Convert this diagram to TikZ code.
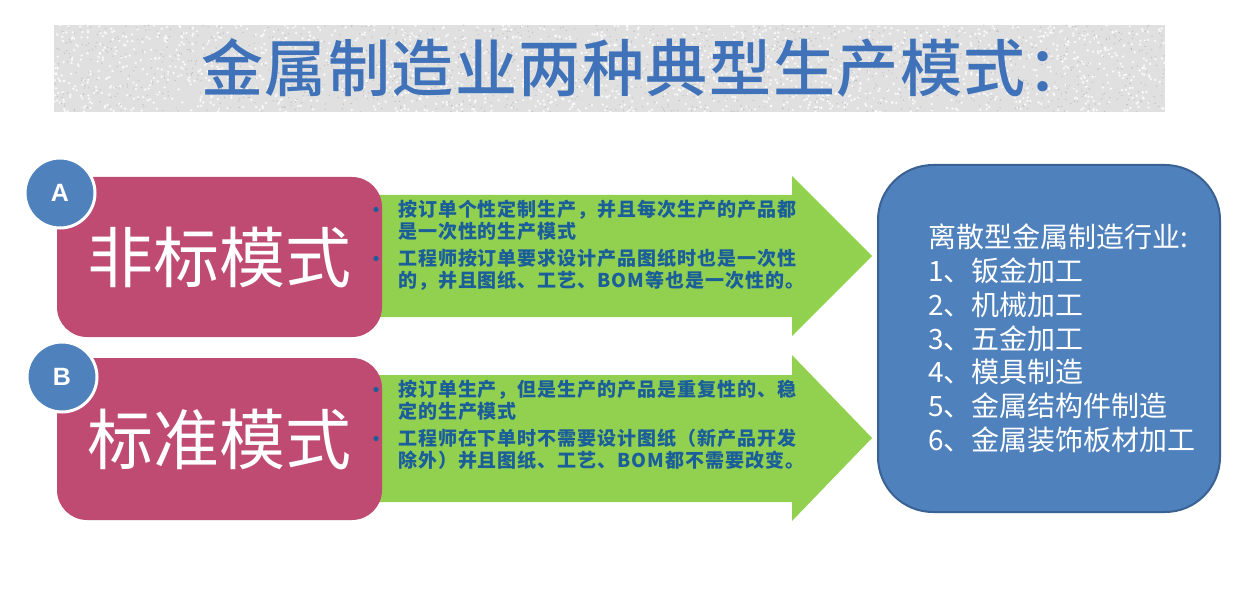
\documentclass[tikz,border=0pt]{standalone}
\usepackage{fontspec}
\setmainfont{Liberation Sans}
\newfontfamily\cjk{Noto Sans CJK SC}
\newfontfamily\cjktitle{Noto Sans CJK SC Medium}[LetterSpace=2.5]
\newfontfamily\cjkgreen{Noto Sans CJK SC}[LetterSpace=5]
\definecolor{pinkfill}{HTML}{BF4B72}
\definecolor{bluefill}{HTML}{4F81BD}
\definecolor{blueline}{HTML}{3A6194}
\definecolor{greenfill}{HTML}{92D050}
\definecolor{textblue}{HTML}{1A5E9A}
\definecolor{titleblue}{HTML}{3F72B8}
\definecolor{banner}{HTML}{E0E0E0}
\begin{document}
\begin{tikzpicture}[x=1pt,y=-1pt,
  pinkbox/.style={fill=pinkfill, rounded corners=30pt, minimum width=325pt, inner sep=0pt,
    text=white, font=\cjk\fontsize{66}{66}\selectfont},
  letterdot/.style={circle, fill=bluefill, draw=white, line width=3pt, minimum size=70pt, inner sep=0pt,
    text=white, font=\bfseries\fontsize{25}{25}\selectfont},
  arrowshape/.style={fill=greenfill},
  gtext/.style={anchor=north west, inner sep=0pt, align=left, text=textblue,
    font=\cjkgreen\bfseries\fontsize{19}{21.5}\selectfont},
  bulletdot/.style={fill=textblue},
  bigbox/.style={fill=bluefill, draw=blueline, line width=2pt, rounded corners=55pt,
    minimum width=342pt, minimum height=347pt, inner sep=0pt},
  listtext/.style={anchor=north west, inner sep=0pt, align=left, text=white,
    font=\cjk\fontsize{28}{33.7}\selectfont},
  titletext/.style={inner sep=0pt, font=\cjktitle\fontsize{62}{62}\selectfont}
]
\useasboundingbox (0,0) rectangle (1253,596);
\fill[white] (0,0) rectangle (1253,596);

% banner with speckled texture
\fill[banner] (54,25) rectangle (1165,112);
\begin{scope}
\clip (54,25) rectangle (1165,112);
\pgfmathsetseed{4321}
\foreach \i in {1,...,1800}{
  \pgfmathsetmacro{\xx}{54+1111*rnd}
  \pgfmathsetmacro{\yy}{25+87*rnd}
  \fill[white, opacity=0.8] (\xx,\yy) circle (1.3pt);
}
\foreach \i in {1,...,1400}{
  \pgfmathsetmacro{\xx}{54+1111*rnd}
  \pgfmathsetmacro{\yy}{25+87*rnd}
  \fill[black!30, opacity=0.7] (\xx,\yy) circle (0.7pt);
}
\end{scope}
\node[titletext, anchor=north west, text=titleblue] (title) at (201,38) {金属制造业两种典型生产模式：};

% green arrows
\fill[arrowshape] (375,195) -- (792,195) -- (792,176) -- (872,256) -- (792,336) -- (792,317) -- (375,317) -- cycle;
\fill[arrowshape] (375,375) -- (792,375) -- (792,355) -- (872,438) -- (792,521) -- (792,502) -- (375,502) -- cycle;

% pink boxes
\node[pinkbox, minimum height=160pt] (modeA) at (219.5,257) {非标模式};
\node[pinkbox, minimum height=162pt] (modeB) at (219.5,439) {标准模式};

% letter circles
\node[letterdot] (circA) at (60,193) {A};
\node[letterdot] (circB) at (62,377) {B};

% bullet texts
\node[gtext] (a1) at (398,200) {按订单个性定制生产，并且每次生产的产品都\\是一次性的生产模式};
\node[gtext] (a2) at (398,249) {工程师按订单要求设计产品图纸时也是一次性\\的，并且图纸、工艺、BOM等也是一次性的。};
\node[gtext] (b1) at (398,380) {按订单生产，但是生产的产品是重复性的、稳\\定的生产模式};
\node[gtext] (b2) at (398,429) {工程师在下单时不需要设计图纸（新产品开发\\除外）并且图纸、工艺、BOM都不需要改变。};
\foreach \n in {a1,a2,b1,b2}{
  \fill[bulletdot] ([xshift=-22pt,yshift=-9.5pt]\n.north west) circle (2.6pt);
}

% industry box
\node[bigbox] (industry) at (1049,338.5) {};
\node[listtext] (list) at (928,224) {离散型金属制造行业:\\1、钣金加工\\2、机械加工\\3、五金加工\\4、模具制造\\5、金属结构件制造\\6、金属装饰板材加工};
\end{tikzpicture}
\end{document}
